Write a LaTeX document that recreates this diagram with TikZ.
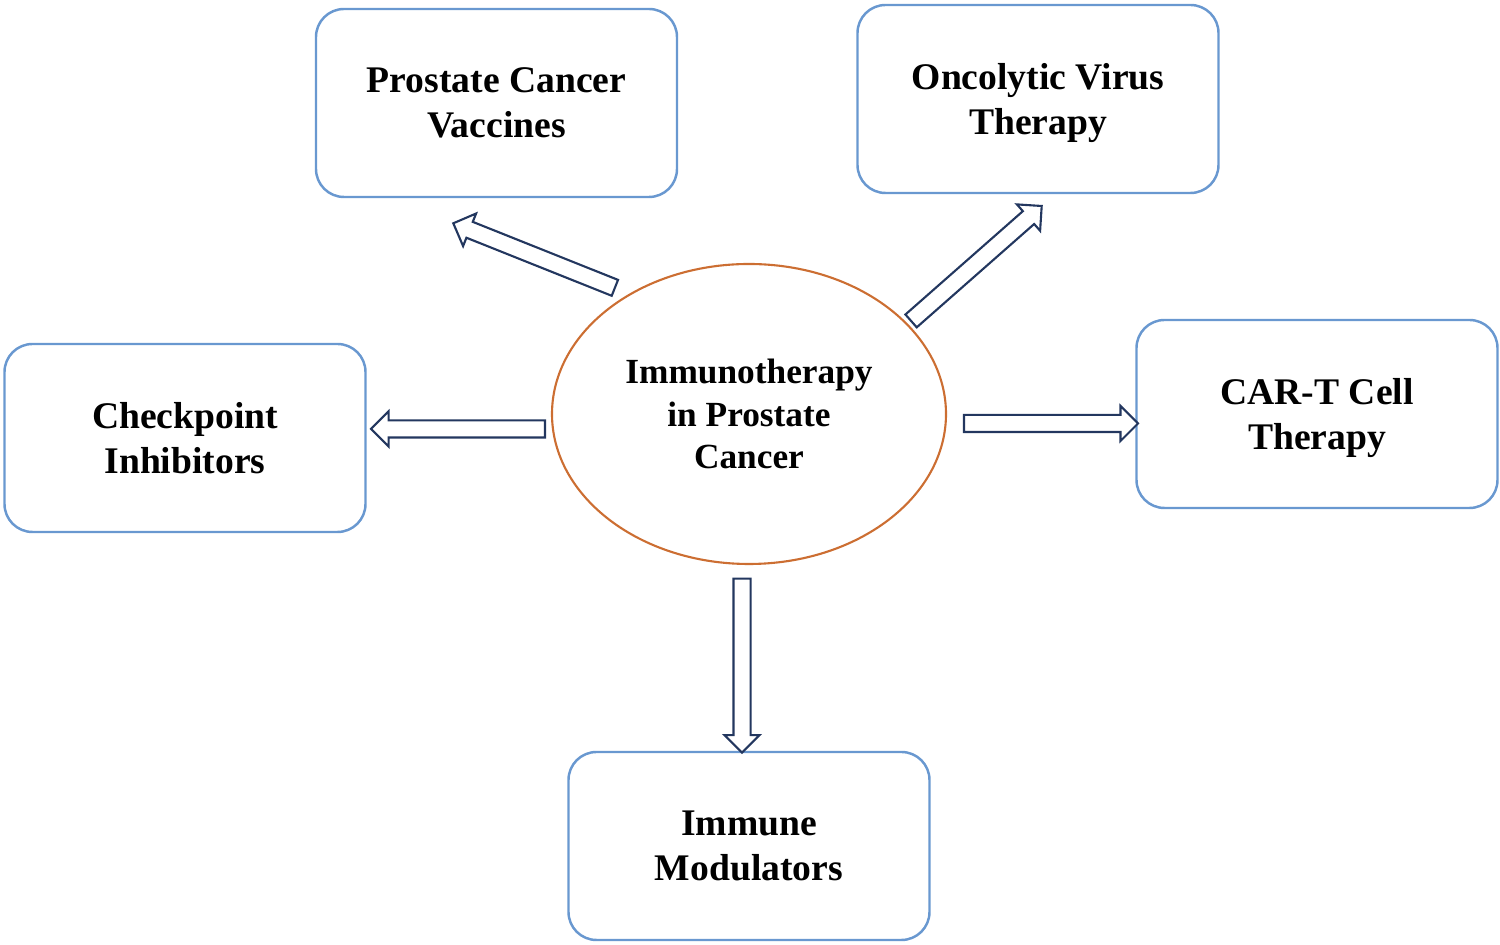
\documentclass[tikz,border=0pt]{standalone}
\usepackage{fontspec}
\setmainfont{Liberation Serif}
\usetikzlibrary{shapes.arrows,shapes.geometric}

\definecolor{boxblue}{RGB}{105,152,208}
\definecolor{ringorange}{RGB}{204,110,50}
\definecolor{arrownavy}{RGB}{35,55,95}

\begin{document}
\begin{tikzpicture}[
		box/.style={draw=boxblue, line width=0.7pt, rounded corners=0.28cm,
			minimum width=3.61cm, minimum height=1.88cm, align=center, text depth=0pt,
			font=\fontsize{10.7}{12.8}\selectfont\bfseries},
		barrow/.style={single arrow, draw=arrownavy, fill=white, line width=0.6pt,
			inner xsep=0pt, inner ysep=0.075cm, outer sep=0pt, single arrow head extend=0.09cm,
			minimum height=1.74cm, sloped, allow upside down, pos=1, anchor=tip}
	]
		\useasboundingbox (0,0) rectangle (15,-9.45);

		\node [draw=ringorange, line width=0.6pt, ellipse, minimum width=3.94cm,
			minimum height=3cm, align=center, font=\fontsize{10.05}{12.2}\selectfont\bfseries]
			at (7.49,-4.14) (imm) {Immunotherapy\\in Prostate\\Cancer};

		\node [box] at (4.965,-1.03) (vac) {Prostate Cancer\\Vaccines};
		\node [box] at (10.38,-0.99) (onc) {Oncolytic Virus\\Therapy};
		\node [box] at (1.85,-4.38) (chk) {Checkpoint\\Inhibitors};
		\node [box] at (13.17,-4.14) (cart) {CAR-T Cell\\Therapy};
		\node [box] at (7.49,-8.46) (mod) {Immune\\Modulators};

		% tails near the ellipse, tips at the boxes
		\coordinate (vacTail) at (6.14,-2.875);
		\coordinate (vacTip) at (4.533,-2.233);
		\coordinate (oncTail) at (9.11,-3.21);
		\coordinate (oncTip) at (10.417,-2.06);
		\coordinate (chkTail) at (5.46,-4.29);
		\coordinate (chkTip) at (3.71,-4.29);
		\coordinate (cartTail) at (9.63,-4.235);
		\coordinate (cartTip) at (11.38,-4.235);
		\coordinate (modTail) at (7.42,-5.79);
		\coordinate (modTip) at (7.42,-7.527);

		\path (vacTail) -- node[barrow]{} (vacTip);
		\path (oncTail) -- node[barrow]{} (oncTip);
		\path (chkTail) -- node[barrow]{} (chkTip);
		\path (cartTail) -- node[barrow]{} (cartTip);
		\path (modTail) -- node[barrow]{} (modTip);
	\end{tikzpicture}
\end{document}
